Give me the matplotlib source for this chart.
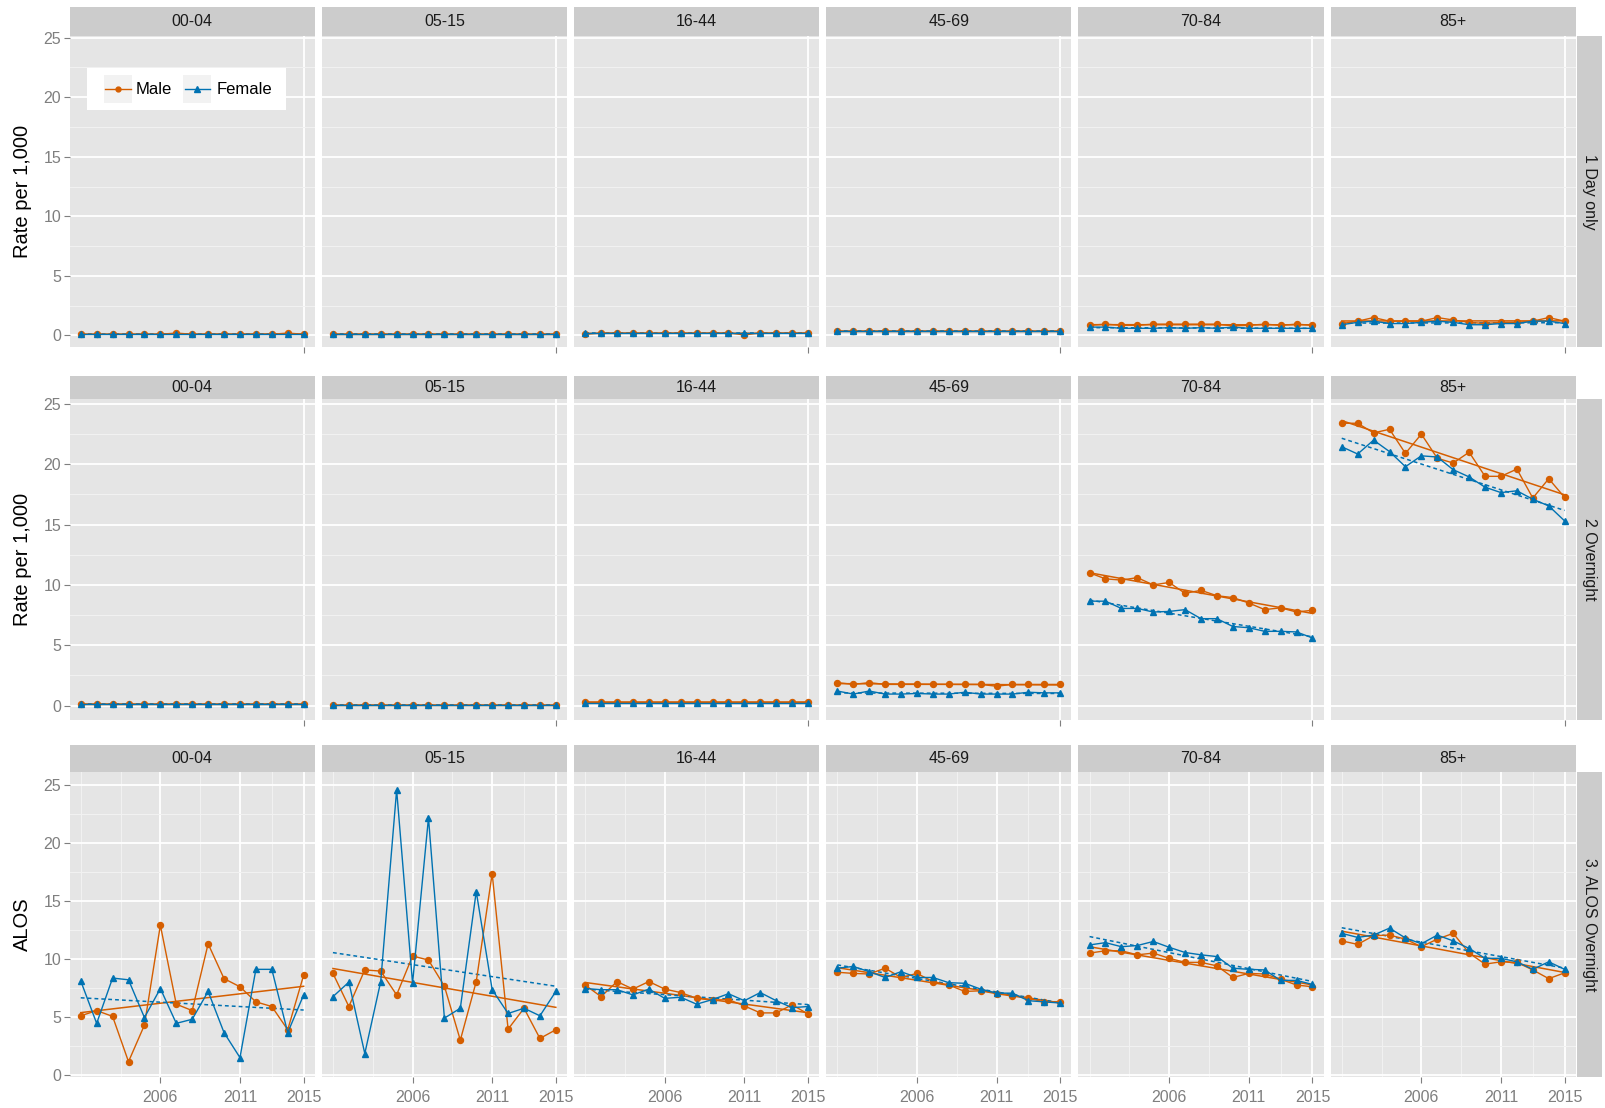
import numpy as np
import matplotlib
matplotlib.use('Agg')
import matplotlib.pyplot as plt
from matplotlib.lines import Line2D
from matplotlib.patches import Rectangle

plt.rcParams['font.family'] = ['Liberation Sans', 'DejaVu Sans']

years = list(range(2001, 2016))
age_groups = ['00-04', '05-15', '16-44', '45-69', '70-84', '85+']
row_labels = ['1 Day only', '2 Overnight', '3. ALOS Overnight']
y_titles = ['Rate per 1,000', 'Rate per 1,000', 'ALOS']
sexes = ['Male', 'Female']

# 1 Day only, one list per age group
day_male = [
    [0.1, 0.1, 0.1, 0.1, 0.1, 0.1, 0.2, 0.1, 0.1, 0.1, 0.1, 0.1, 0.1, 0.2, 0.1],
    [0.1, 0.1, 0.1, 0.1, 0.1, 0.1, 0.1, 0.1, 0.1, 0.1, 0.1, 0.1, 0.1, 0.1, 0.1],
    [0.1, 0.2, 0.2, 0.2, 0.2, 0.2, 0.2, 0.2, 0.2, 0.2, 0.05, 0.2, 0.2, 0.2, 0.2],
    [0.4, 0.4, 0.4, 0.4, 0.4, 0.4, 0.4, 0.4, 0.4, 0.4, 0.4, 0.4, 0.4, 0.4, 0.4],
    [0.85, 0.95, 0.85, 0.85, 0.95, 0.95, 0.95, 0.95, 0.95, 0.8, 0.85, 0.95, 0.85, 0.95, 0.85],
    [1.0, 1.2, 1.5, 1.2, 1.2, 1.2, 1.5, 1.3, 1.1, 1.0, 1.1, 1.1, 1.2, 1.5, 1.2],
]
day_female = [
    [0.15, 0.15, 0.15, 0.15, 0.15, 0.15, 0.15, 0.15, 0.15, 0.15, 0.15, 0.15, 0.15, 0.15, 0.15],
    [0.12, 0.12, 0.12, 0.12, 0.12, 0.12, 0.12, 0.12, 0.12, 0.12, 0.12, 0.12, 0.12, 0.12, 0.12],
    [0.2, 0.2, 0.2, 0.2, 0.2, 0.2, 0.2, 0.2, 0.2, 0.2, 0.2, 0.2, 0.2, 0.2, 0.2],
    [0.35, 0.35, 0.35, 0.35, 0.35, 0.35, 0.35, 0.35, 0.35, 0.35, 0.35, 0.35, 0.35, 0.35, 0.35],
    [0.7, 0.7, 0.6, 0.6, 0.6, 0.65, 0.6, 0.65, 0.6, 0.7, 0.6, 0.6, 0.6, 0.6, 0.6],
    [0.9, 1.1, 1.2, 1.0, 1.0, 1.1, 1.2, 1.1, 0.9, 0.9, 1.0, 1.0, 1.2, 1.2, 1.0],
]

# 2 Overnight
night_male = [
    [0.1, 0.1, 0.1, 0.1, 0.1, 0.1, 0.1, 0.1, 0.1, 0.1, 0.1, 0.1, 0.1, 0.1, 0.1],
    [0.08, 0.08, 0.08, 0.08, 0.08, 0.08, 0.08, 0.08, 0.08, 0.08, 0.08, 0.08, 0.08, 0.08, 0.08],
    [0.3, 0.3, 0.3, 0.3, 0.3, 0.3, 0.3, 0.3, 0.3, 0.3, 0.3, 0.3, 0.3, 0.3, 0.3],
    [1.9, 1.75, 1.9, 1.75, 1.75, 1.75, 1.75, 1.75, 1.75, 1.75, 1.6, 1.75, 1.75, 1.75, 1.75],
    [11.0, 10.5, 10.4, 10.6, 10.0, 10.2, 9.3, 9.55, 9.1, 8.95, 8.5, 7.95, 8.1, 7.75, 7.9],
    [23.4, 23.4, 22.6, 22.9, 20.9, 22.5, 20.5, 20.1, 21.0, 19.0, 19.0, 19.6, 17.2, 18.8, 17.25],
]
night_female = [
    [0.12, 0.12, 0.12, 0.12, 0.12, 0.12, 0.12, 0.12, 0.12, 0.12, 0.12, 0.12, 0.12, 0.12, 0.12],
    [0.08, 0.08, 0.08, 0.08, 0.08, 0.08, 0.08, 0.08, 0.08, 0.08, 0.08, 0.08, 0.08, 0.08, 0.08],
    [0.25, 0.25, 0.25, 0.25, 0.25, 0.25, 0.25, 0.25, 0.25, 0.25, 0.25, 0.25, 0.25, 0.25, 0.25],
    [1.2, 0.95, 1.2, 0.95, 0.95, 1.0, 0.95, 0.95, 1.1, 0.95, 0.95, 0.95, 1.1, 1.05, 1.05],
    [8.65, 8.65, 8.05, 8.05, 7.75, 7.8, 7.95, 7.2, 7.2, 6.55, 6.45, 6.15, 6.15, 6.1, 5.6],
    [21.45, 20.85, 22.0, 21.05, 19.8, 20.7, 20.6, 19.55, 18.95, 18.1, 17.65, 17.8, 17.1, 16.55, 15.3],
]

# 3. ALOS Overnight
alos_male = [
    [5.1, 5.55, 5.05, 1.15, 4.3, 12.9, 6.1, 5.55, 11.3, 8.3, 7.6, 6.3, 5.9, 3.9, 8.6],
    [8.75, 5.9, 9.05, 8.95, 6.9, 10.25, 9.9, 7.65, 3.0, 8.05, 17.35, 3.95, 5.75, 3.15, 3.9],
    [7.75, 6.75, 8.05, 7.4, 8.05, 7.4, 7.1, 6.6, 6.45, 6.5, 5.95, 5.35, 5.35, 6.05, 5.25],
    [8.85, 8.75, 8.7, 9.2, 8.4, 8.75, 8.05, 7.75, 7.2, 7.25, 7.0, 6.8, 6.6, 6.3, 6.3],
    [10.5, 10.7, 10.7, 10.35, 10.5, 10.05, 9.7, 9.7, 9.4, 8.4, 8.75, 8.7, 8.25, 7.75, 7.6],
    [11.55, 11.25, 12.0, 12.05, 11.7, 11.05, 11.7, 12.2, 10.5, 9.55, 9.75, 9.7, 9.05, 8.3, 8.8],
]
alos_female = [
    [8.1, 4.45, 8.35, 8.2, 4.95, 7.45, 4.45, 4.8, 7.2, 3.65, 1.5, 9.1, 9.1, 3.65, 6.9],
    [6.75, 8.0, 1.85, 8.05, 24.55, 7.9, 22.15, 4.9, 5.75, 15.8, 7.35, 5.3, 5.75, 5.1, 7.2],
    [7.45, 7.35, 7.35, 6.9, 7.4, 6.6, 6.7, 6.1, 6.5, 7.0, 6.4, 7.1, 6.4, 5.8, 5.9],
    [9.2, 9.35, 8.9, 8.4, 8.9, 8.4, 8.4, 7.95, 7.9, 7.4, 7.05, 7.05, 6.4, 6.3, 6.2],
    [11.2, 11.4, 11.05, 11.15, 11.5, 11.0, 10.55, 10.35, 10.2, 9.2, 9.1, 9.05, 8.15, 8.15, 7.8],
    [12.2, 11.85, 12.05, 12.65, 11.8, 11.3, 12.05, 11.55, 10.9, 10.05, 10.05, 9.75, 9.1, 9.75, 9.1],
]

rows_data = [(day_male, day_female), (night_male, night_female), (alos_male, alos_female)]
colors = {'Male': '#D55E00', 'Female': '#0072B2'}
markers = {'Male': 'o', 'Female': '^'}
msizes = {'Male': 4.3, 'Female': 4.8}

W, H = 1606, 1108
fig = plt.figure(figsize=(W / 100, H / 100), dpi=100)


def px_axes(x0, y0, x1, y1):
    return fig.add_axes([x0 / W, 1 - y1 / H, (x1 - x0) / W, (y1 - y0) / H])


col_left = [69.6 + i * 252.2 for i in range(6)]
col_w = 245.2
# strip top, strip bottom / panel top, panel bottom, ylim
row_geom = [
    (7.3, 35.7, 347, (-0.97, 25.17)),
    (376, 399, 720, (-1.2, 25.41)),
    (745, 771.7, 1077, (-0.17, 26.12)),
]

grey50 = '#7F7F7F'
for r, (st, sb, pb, ylim) in enumerate(row_geom):
    male_rows, female_rows = rows_data[r]
    for c, grp in enumerate(age_groups):
        x0 = col_left[c]
        x1 = x0 + col_w
        ax = px_axes(x0, sb, x1, pb)
        ax.set_facecolor('#E5E5E5')
        for s in ax.spines.values():
            s.set_visible(False)
        ax.set_xlim(2000.3, 2015.7)
        ax.set_ylim(*ylim)
        ax.set_yticks(range(0, 26, 5))
        ax.set_yticks([2.5, 7.5, 12.5, 17.5, 22.5], minor=True)
        if r == 2:
            ax.set_xticks([2006, 2011, 2015])
            ax.set_xticks([2001, 2003.5, 2008.5, 2013], minor=True)
        else:
            ax.set_xticks([2015])
        ax.grid(which='major', color='white', lw=1.3)
        ax.grid(which='minor', color='#F2F2F2', lw=0.7)
        ax.set_axisbelow(True)
        ax.tick_params(which='major', length=4, width=0.8, color=grey50,
                       labelcolor=grey50, labelsize=11.5, pad=2)
        ax.tick_params(axis='x', pad=5)
        ax.tick_params(which='minor', length=0)
        if c != 0:
            ax.tick_params(axis='y', length=0, labelleft=False)
        if r != 2:
            ax.tick_params(axis='x', labelbottom=False)

        for sex, vals in zip(sexes, (male_rows[c], female_rows[c])):
            col = colors[sex]
            ax.plot(years, vals, color=col, lw=1.0, marker=markers[sex],
                    ms=msizes[sex], zorder=3)
            k, b = np.polyfit(years, vals, 1)
            fit = np.polyval([k, b], [years[0], years[-1]])
            ls = '-' if sex == 'Male' else (0, (2.5, 2))
            ax.plot([years[0], years[-1]], fit, color=col, lw=1.1, ls=ls, zorder=2)

        sax = px_axes(x0, st, x1, sb)
        sax.set_facecolor('#CCCCCC')
        sax.set_xticks([])
        sax.set_yticks([])
        for s in sax.spines.values():
            s.set_visible(False)
        sax.text(0.5, 0.5, grp, ha='center', va='center', fontsize=11.5,
                 color='#1A1A1A', transform=sax.transAxes)

    rax = px_axes(1577, sb, 1602, pb)
    rax.set_facecolor('#CCCCCC')
    rax.set_xticks([])
    rax.set_yticks([])
    for s in rax.spines.values():
        s.set_visible(False)
    rax.text(0.5, 0.5, row_labels[r], ha='center', va='center', rotation=-90,
             fontsize=11.5, color='#1A1A1A', transform=rax.transAxes)

    fig.text(22.5 / W, 1 - (sb + pb) / 2 / H, y_titles[r], rotation=90,
             ha='center', va='center', fontsize=14.5, color='black')

# legend box inside the first panel
lax = px_axes(86.7, 67.7, 286, 110)
lax.set_xlim(0, 199.3)
lax.set_ylim(42.3, 0)
lax.set_facecolor('white')
lax.set_xticks([])
lax.set_yticks([])
for s in lax.spines.values():
    s.set_visible(False)
for sex, kx, tx in (('Male', 17.3, 49), ('Female', 96.3, 130)):
    lax.add_patch(Rectangle((kx, 7.3), 28, 28, color='#F2F2F2', lw=0))
    lax.add_line(Line2D([kx + 1.5, kx + 26.5], [21.3, 21.3], color=colors[sex], lw=1.0))
    lax.plot([kx + 14], [21.3], marker=markers[sex], color=colors[sex],
             ms=3.5 if sex == 'Male' else 4)
    lax.text(tx, 21.3, sex, ha='left', va='center', fontsize=12, color='black')

fig.savefig('out.png', dpi=100, facecolor='white')
